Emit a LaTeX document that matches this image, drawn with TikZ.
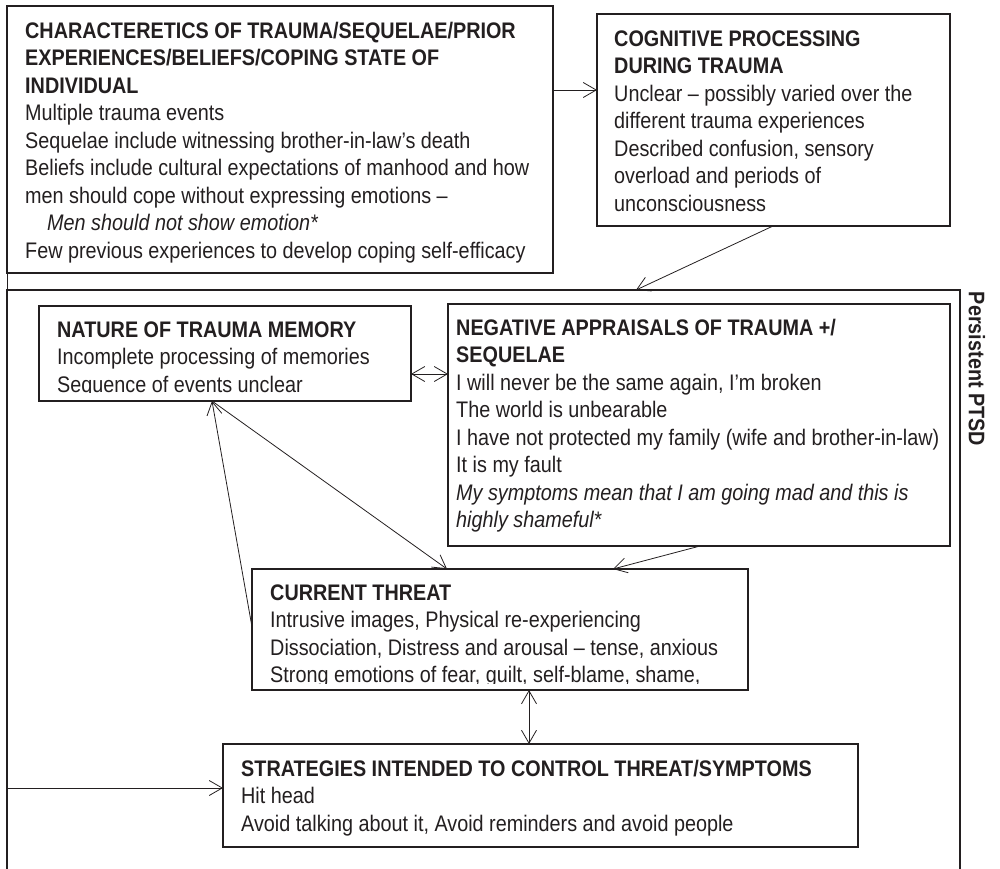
\documentclass[tikz,border=0pt]{standalone}
\usepackage{fontspec}
\setmainfont{Liberation Sans}[FakeStretch=0.88]
\usetikzlibrary{arrows.meta,calc}
\definecolor{ink}{HTML}{231F20}
\begin{document}
\begin{tikzpicture}[x=1pt,y=-1pt,
  box/.style={draw=ink, line width=1.7pt, rectangle, inner sep=0pt, outer sep=0pt, anchor=north west},
  outerbox/.style={box, line width=2.4pt},
  txt/.style={anchor=north west, inner sep=0pt, align=left, text=ink, font=\fontsize{22.5}{27.5}\selectfont},
  arr/.style={draw=ink, line width=0.8pt, -{Straight Barb[length=13pt,width=15pt]}},
  darr/.style={draw=ink, line width=0.8pt, {Straight Barb[length=13pt,width=15pt]}-{Straight Barb[length=13pt,width=15pt]}}]
\useasboundingbox (0,0) rectangle (1000,868);
\clip (0,0) rectangle (1000,868);

% boxes
\node[box, minimum width=546pt, minimum height=267pt] (b1) at (7,6) {};
\node[box, minimum width=353pt, minimum height=212pt] (b2) at (597,14) {};
\node[outerbox, minimum width=953pt, minimum height=620pt] (outer) at (7,290) {};
\node[box, minimum width=372pt, minimum height=95pt] (ntm) at (39,306) {};
\node[box, minimum width=502pt, minimum height=242pt] (neg) at (448,304) {};
\node[box, minimum width=496pt, minimum height=121pt] (ct) at (252,569) {};
\node[box, minimum width=635pt, minimum height=103pt] (st) at (223,744) {};

% texts
\node[txt] (b1t) at (25,18.75) {\strut\textbf{CHARACTERETICS OF TRAUMA/SEQUELAE/PRIOR}\\
\textbf{EXPERIENCES/BELIEFS/COPING STATE OF}\\
\textbf{INDIVIDUAL}\\
Multiple trauma events\\
Sequelae include witnessing brother-in-law’s death\\
Beliefs include cultural expectations of manhood and how\\
men should cope without expressing emotions –\\
\hspace*{22pt}\textit{Men should not show emotion*}\\
Few previous experiences to develop coping self-efficacy};

\node[txt] (b2t) at (614,26.75) {\strut\textbf{COGNITIVE PROCESSING}\\
\textbf{DURING TRAUMA}\\
Unclear – possibly varied over the\\
different trauma experiences\\
Described confusion, sensory\\
overload and periods of\\
unconsciousness};

\begin{scope}
\clip (ntm.north west) rectangle ($(ntm.south east)+(0,-8.5)$);
\node[txt] (ntmt) at (57,317.75) {\strut\textbf{NATURE OF TRAUMA MEMORY}\\
Incomplete processing of memories\\
Sequence of events unclear};
\end{scope}

\node[txt] (negt) at (456,315.75) {\strut\textbf{NEGATIVE APPRAISALS OF TRAUMA +/}\\
\textbf{SEQUELAE}\\
I will never be the same again, I’m broken\\
The world is unbearable\\
I have not protected my family (wife and brother-in-law)\\
It is my fault\\
\textit{My symptoms mean that I am going mad and this is}\\
\textit{highly shameful*}};

\begin{scope}
\clip (ct.north west) rectangle ($(ct.south east)+(0,-7)$);
\node[txt] (ctt) at (270,580.75) {\strut\textbf{CURRENT THREAT}\\
Intrusive images, Physical re-experiencing\\
Dissociation, Distress and arousal – tense, anxious\\
Strong emotions of fear, guilt, self-blame, shame,};
\end{scope}

\node[txt] (stt) at (241,756.75) {\strut\textbf{STRATEGIES INTENDED TO CONTROL THREAT/SYMPTOMS}\\
Hit head\\
Avoid talking about it, Avoid reminders and avoid people};

\node[rotate=-90, inner sep=0pt, text=ink, font=\fontsize{22.5}{27.5}\selectfont\bfseries] (ptsd) at (977,369) {Persistent PTSD};

% connectors
\draw[arr] ($(b1.north east)+(0,84)$) -- ($(b2.north west)+(0,76)$);
\draw[arr] ($(b2.south west)+(176,0)$) -- ($(outer.north west)+(629,0)$);
\draw[darr] ($(ntm.north east)+(0,68)$) -- ($(neg.north west)+(0,70)$);
\draw[arr] ($(ntm.south west)+(173,0)$) -- ($(ct.north west)+(195,0)$);
\draw[arr] ($(ct.north west)+(0,58)$) -- ($(ntm.south west)+(173,0)$);
\draw[arr] ($(neg.south west)+(252,0)$) -- ($(ct.north west)+(361,0)$);
\draw[darr] ($(ct.south west)+(277,0)$) -- ($(st.north west)+(306,0)$);
\draw[arr] (b1.south west) |- ($(st.north west)+(0,44)$);
\end{tikzpicture}
\end{document}
